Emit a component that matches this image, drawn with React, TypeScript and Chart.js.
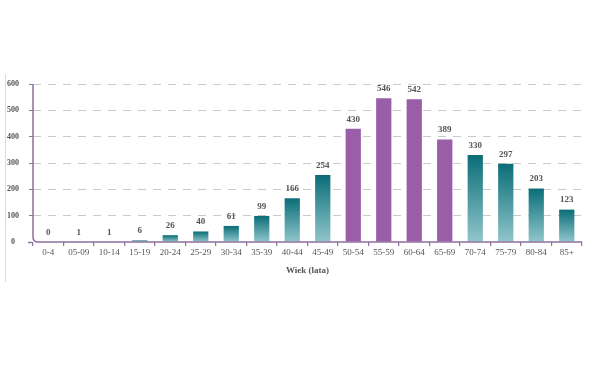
import React, { useEffect, useRef } from "react";
import { Chart, registerables } from "chart.js";

Chart.register(...registerables);

const categories = ["0-4", "05-09", "10-14", "15-19", "20-24", "25-29", "30-34", "35-39", "40-44", "45-49", "50-54", "55-59", "60-64", "65-69", "70-74", "75-79", "80-84", "85+"];
const values = [0, 1, 1, 6, 26, 40, 61, 99, 166, 254, 430, 546, 542, 389, 330, 297, 203, 123];
const highlighted = ["50-54", "55-59", "60-64", "65-69"];
const yTicks = [0, 100, 200, 300, 400, 500, 600];
const xTitle = "Wiek (lata)";

const PURPLE = "#9a5ea9";
const AXIS = "#8f6f9e";
const TEAL_TOP = "#0a6d77";
const TEAL_BOTTOM = "#90c6cc";
const FONT = "'Liberation Serif', 'DejaVu Serif', serif";

const valueLabels = {
  id: "valueLabels",
  afterDatasetsDraw(chart: any) {
    const ctx = chart.ctx;
    const meta = chart.getDatasetMeta(0);
    ctx.save();
    ctx.font = `bold 9px ${FONT}`;
    ctx.fillStyle = "#555";
    ctx.textAlign = "center";
    ctx.textBaseline = "bottom";
    meta.data.forEach((bar: any, i: number) => {
      ctx.fillText(String(values[i]), bar.x, bar.y - 5);
    });
    ctx.restore();
  },
};

const axisLines = {
  id: "axisLines",
  afterDraw(chart: any) {
    const { ctx, chartArea } = chart;
    const { left, right, top, bottom } = chartArea;
    ctx.save();
    ctx.strokeStyle = AXIS;
    ctx.lineWidth = 1.5;
    ctx.beginPath();
    ctx.moveTo(left, top);
    ctx.lineTo(left, bottom - 5);
    ctx.quadraticCurveTo(left, bottom, left + 5, bottom);
    ctx.lineTo(right, bottom);
    ctx.stroke();
    ctx.beginPath();
    ctx.moveTo(left - 5, bottom + 0.5);
    ctx.lineTo(left - 1, bottom + 0.5);
    ctx.stroke();
    ctx.restore();
  },
};

export default function App() {
  const ref = useRef<HTMLCanvasElement>(null);
  useEffect(() => {
    if (!ref.current) return;
    const chart = new Chart(ref.current, {
      type: "bar",
      data: {
        labels: categories,
        datasets: [
          {
            data: values,
            barPercentage: 0.5,
            categoryPercentage: 1,
            backgroundColor: (c: any) => {
              const cat = categories[c.dataIndex];
              if (highlighted.includes(cat)) return PURPLE;
              const ch = c.chart;
              if (!ch.chartArea) return TEAL_TOP;
              const ys = ch.scales.y;
              const v = values[c.dataIndex];
              const y0 = ys.getPixelForValue(v);
              const y1 = ys.getPixelForValue(0);
              if (y1 - y0 < 1) return TEAL_BOTTOM;
              const g = ch.ctx.createLinearGradient(0, y0, 0, y1);
              g.addColorStop(0, TEAL_TOP);
              g.addColorStop(1, TEAL_BOTTOM);
              return g;
            },
          },
        ],
      },
      options: {
        animation: false,
        responsive: false,
        maintainAspectRatio: false,
        layout: { padding: { left: 0, right: 28, top: 84, bottom: 93 } },
        plugins: { legend: { display: false }, tooltip: { enabled: false } },
        scales: {
          x: {
            offset: true,
            border: { display: false },
            grid: {
              drawOnChartArea: false,
              drawTicks: true,
              tickLength: 4,
              tickColor: AXIS,
              lineWidth: 1.2,
              offset: true,
            },
            ticks: {
              color: "#555",
              font: { family: FONT, size: 9 },
              padding: 1,
              maxRotation: 0,
              autoSkip: false,
            },
            title: {
              display: true,
              text: xTitle,
              color: "#555",
              font: { family: FONT, size: 9, weight: "bold" },
              padding: { top: 0, bottom: 0 },
            },
            afterFit: (s: any) => {
              s.height = 34;
            },
          },
          y: {
            min: 0,
            max: 600,
            border: { display: false, dash: [8, 7] },
            afterBuildTicks: (s: any) => {
              s.ticks = yTicks.map((v) => ({ value: v }));
            },
            afterFit: (s: any) => {
              s.width = 33;
            },
            grid: {
              color: (c: any) => (c.tick && c.tick.value === 0 ? "rgba(0,0,0,0)" : "#c9c9c9"),
              tickBorderDash: [],
              tickColor: AXIS,
              tickLength: 4,
              lineWidth: 1,
            },
            ticks: {
              color: "#555",
              font: { family: FONT, size: 8, weight: "bold" },
              padding: 10,
              crossAlign: "center",
            },
          },
        },
      },
      plugins: [valueLabels, axisLines],
    } as any);
    return () => chart.destroy();
  }, []);
  return (
    <div style={{ position: "absolute", left: 0, top: 0, width: 610, height: 369, background: "#fff" }}>
      <div style={{ position: "absolute", left: 5, top: 74, width: 0, height: 208, borderLeft: "1px solid #dcdcdc" }} />
      <canvas ref={ref} width={610} height={369} style={{ position: "absolute", left: 0, top: 0 }} />
    </div>
  );
}
